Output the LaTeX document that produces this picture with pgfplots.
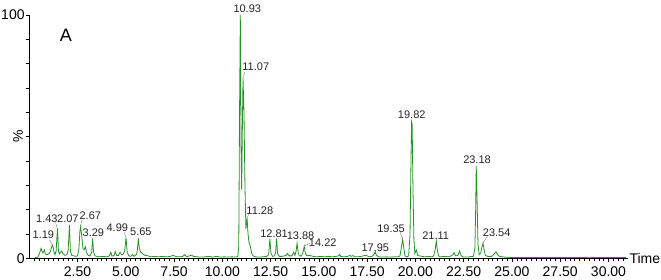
\documentclass[border=0pt]{standalone}
\usepackage{pgfplots}
\pgfplotsset{compat=1.18}
\usepackage{fontspec}
\setmainfont{Liberation Sans}
\definecolor{cgreen}{RGB}{40,145,40}
\begin{document}
\begin{tikzpicture}
\useasboundingbox (-29.3pt,-20.7pt) rectangle (631.7pt,258.3pt);
\begin{axis}[
  at={(0,0)}, anchor=origin,
  scale only axis,
  width=598.5pt, height=243.3pt,
  xmin=0, xmax=31, ymin=0, ymax=100,
  clip=false,
  axis x line=bottom, axis y line=left,
  x axis line style={-, black, line width=0.9pt},
  y axis line style={-, black, line width=1.3pt},
  tick align=outside,
  xtick={2.5,5,...,30},
  minor xtick={0.25,0.5,...,30.75},
  ytick={0,100},
  minor ytick={10,20,...,90},
  major tick length=3.5pt, minor tick length=3pt,
  tick style={black, line width=0.5pt},
  /pgf/number format/assume math mode=true,
  xticklabel style={font=\fontsize{14}{14}\selectfont, yshift=-1pt, /pgf/number format/fixed, /pgf/number format/fixed zerofill, /pgf/number format/precision=2},
  yticklabel style={font=\fontsize{14}{14}\selectfont, inner sep=1pt},
]
\addplot[cgreen, line width=0.8pt] coordinates {
(0.3,0.3) (0.45,0.5) (0.55,2.5) (0.61,4.1) (0.66,2.8) (0.7,2.2) (0.78,3.4) (0.83,1.8) (0.9,1.5) (1.0,1.8) (1.08,2.5) (1.15,4.5) (1.21,5.5) (1.27,3.0) (1.33,1.5) (1.39,3) (1.46,12.3) (1.51,3) (1.56,1.8) (1.62,2.5) (1.68,3.0) (1.75,1.8) (1.85,1.2) (1.95,1.5) (2.01,3.0) (2.08,13.7) (2.13,3.0) (2.2,1.2) (2.3,1.0) (2.4,0.8) (2.5,1.0) (2.57,4) (2.62,11) (2.66,13) (2.72,9) (2.78,4) (2.84,3.5) (2.9,4.8) (2.96,2.5) (3.05,1.2) (3.15,1.0) (3.23,2.5) (3.28,8.2) (3.33,2.5) (3.4,1.0) (3.6,0.6) (3.8,0.8) (4.0,0.6) (4.15,1.0) (4.22,2.5) (4.28,1.0) (4.38,1.0) (4.45,2.8) (4.52,1.2) (4.62,1.2) (4.7,2.5) (4.78,1.5) (4.85,1.5) (4.94,3.0) (5.01,8.5) (5.07,2.5) (5.15,1.0) (5.25,0.8) (5.35,1.5) (5.42,0.8) (5.55,1.5) (5.6,3.5) (5.65,8.2) (5.7,4.0) (5.78,2.5) (5.88,1.8) (6.0,1.2) (6.15,1.0) (6.3,0.6) (6.5,0.8) (6.7,0.6) (6.9,0.8) (7.1,0.6) (7.3,0.8) (7.45,1.2) (7.6,0.7) (7.8,0.6) (7.95,0.8) (8.05,1.5) (8.15,0.7) (8.3,1.0) (8.4,1.3) (8.5,0.8) (8.7,0.6) (8.9,0.5) (9.1,0.6) (9.3,0.8) (9.5,0.5) (9.7,0.8) (9.9,0.5) (10.1,0.6) (10.3,0.5) (10.5,0.6) (10.7,0.5) (10.8,0.8) (10.85,5) (10.89,60) (10.93,100) (10.97,45) (11.0,28) (11.03,50) (11.07,74) (11.12,60) (11.17,30) (11.22,12) (11.28,16.4) (11.33,10) (11.38,6.5) (11.45,5) (11.52,2) (11.6,1.0) (11.7,0.6) (11.9,0.5) (12.1,0.6) (12.3,0.8) (12.4,1.5) (12.46,8) (12.52,2) (12.6,0.8) (12.7,1.0) (12.76,2.5) (12.81,8.2) (12.86,2) (12.95,0.8) (13.1,0.8) (13.3,1.2) (13.37,2) (13.45,1.0) (13.6,1.0) (13.7,2.5) (13.76,1.2) (13.82,3) (13.87,6.2) (13.93,2) (14.0,1.0) (14.1,1.0) (14.18,2.5) (14.24,5) (14.3,2) (14.38,1.0) (14.5,1.2) (14.7,0.8) (14.9,0.6) (15.1,0.8) (15.3,0.6) (15.5,0.8) (15.7,0.6) (15.9,0.8) (16.02,1.0) (16.07,1.6) (16.13,0.8) (16.3,0.6) (16.5,0.8) (16.6,1.2) (16.68,0.8) (16.76,1.1) (16.85,0.6) (17.0,0.6) (17.2,0.8) (17.4,1.2) (17.5,1.0) (17.6,0.6) (17.75,0.8) (17.85,1.5) (17.92,2.7) (17.98,1.2) (18.1,0.6) (18.3,0.5) (18.5,0.6) (18.7,0.5) (18.9,0.6) (19.1,0.6) (19.2,1.0) (19.28,5) (19.34,7.8) (19.4,4) (19.46,1.0) (19.55,0.6) (19.65,1.0) (19.72,10) (19.77,40) (19.8,56) (19.83,55) (19.87,30) (19.92,8) (19.97,2) (20.05,3.4) (20.12,1.2) (20.2,1.0) (20.35,0.8) (20.5,0.6) (20.7,0.8) (20.85,0.6) (20.95,1.0) (21.03,4) (21.08,7.2) (21.14,3) (21.2,1.0) (21.3,0.6) (21.5,0.8) (21.7,0.6) (21.85,1.0) (21.95,1.6) (22.01,2.3) (22.08,1.0) (22.2,1.2) (22.29,3.0) (22.36,1.2) (22.45,0.6) (22.6,0.5) (22.8,0.6) (23.0,0.8) (23.08,4) (23.12,20) (23.15,38) (23.19,25) (23.24,6) (23.3,1.5) (23.38,2) (23.44,4.5) (23.5,6.2) (23.56,3.5) (23.62,1.2) (23.75,0.8) (23.95,0.8) (24.08,1.8) (24.17,2.7) (24.25,1.5) (24.35,0.8) (24.6,0.5) (24.8,0.4) (25.0,0.3) (26,0.3) (27,0.3) (28,0.3) (29,0.4) (30,0.3) (30.9,0.3)
};
% leader lines
\begin{scope}[gray, line width=0.4pt]
\draw (axis cs:1.05,7.6) -- (axis cs:1.19,5.5);
\draw (axis cs:1.36,14.6) -- (axis cs:1.46,12.3);
\draw (axis cs:2.72,15.9) -- (axis cs:2.66,13);
\draw (axis cs:4.9,10.9) -- (axis cs:5.01,8.5);
\draw (axis cs:11.16,76.6) -- (axis cs:11.07,74);
\draw (axis cs:11.36,18.1) -- (axis cs:11.28,16.4);
\draw (axis cs:14.55,6.3) -- (axis cs:14.24,5);
\draw (axis cs:19.2,10.7) -- (axis cs:19.34,7.8);
\draw (axis cs:23.72,9.1) -- (axis cs:23.5,6.2);
\end{scope}
\begin{scope}[every node/.style={font=\fontsize{11}{11}\selectfont, inner sep=0pt, text=black!85}]
\node at (axis cs:0.73,9.6) {1.19};
\node at (axis cs:0.91,16.2) {1.43};
\node at (axis cs:2.00,16.2) {2.07};
\node at (axis cs:3.16,17.5) {2.67};
\node at (axis cs:3.32,10.4) {3.29};
\node at (axis cs:4.56,12.5) {4.99};
\node at (axis cs:5.78,10.8) {5.65};
\node at (axis cs:11.29,102.5) {10.93};
\node at (axis cs:11.73,78.8) {11.07};
\node at (axis cs:11.94,19.6) {11.28};
\node at (axis cs:12.68,10.0) {12.81};
\node at (axis cs:14.05,9.2) {13.88};
\node at (axis cs:15.20,6.4) {14.22};
\node at (axis cs:17.92,4.5) {17.95};
\node at (axis cs:18.74,12.3) {19.35};
\node at (axis cs:19.81,58.9) {19.82};
\node at (axis cs:21.05,9.2) {21.11};
\node at (axis cs:23.19,40.4) {23.18};
\node at (axis cs:24.21,10.7) {23.54};
\end{scope}
\node[font=\fontsize{18}{18}\selectfont, inner sep=0pt] at (axis cs:1.90,91.8) {A};
\node[font=\fontsize{14}{14}\selectfont, rotate=90, inner sep=0pt] at ([xshift=-11.3pt]axis cs:0,50) {\%};
\node[font=\fontsize{14}{14}\selectfont, anchor=west, inner sep=1.5pt] at (axis cs:31,0) {Time};
\end{axis}
\end{tikzpicture}
\end{document}
